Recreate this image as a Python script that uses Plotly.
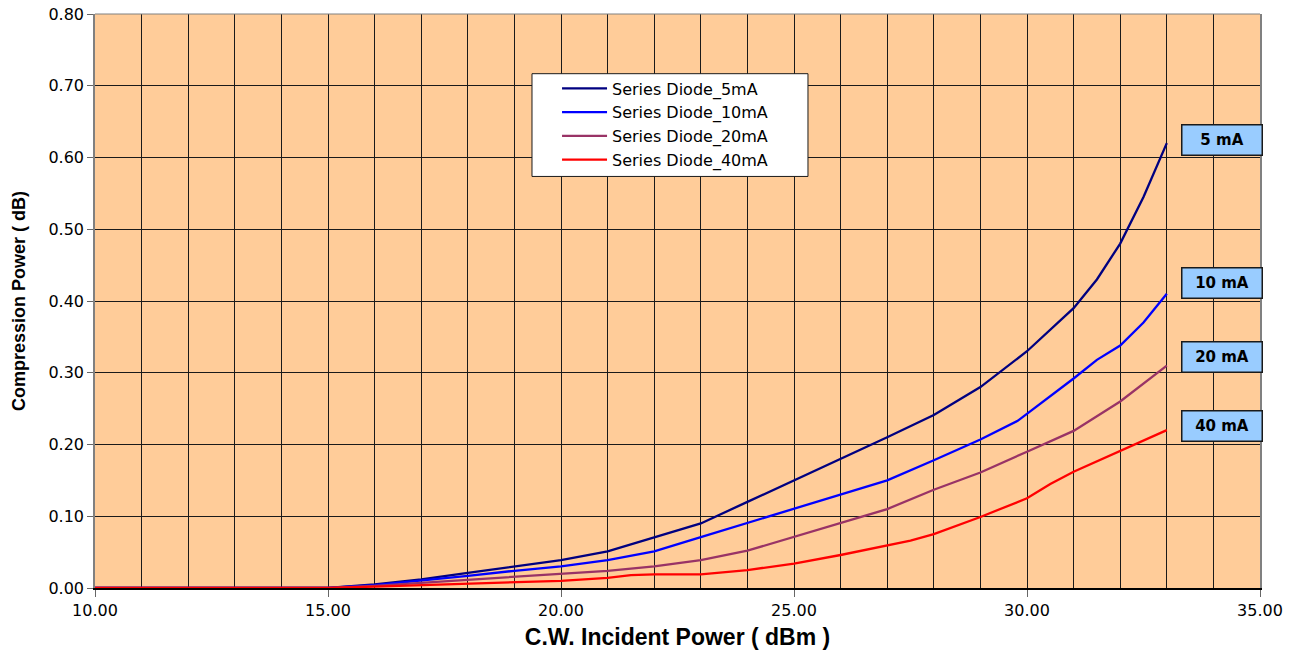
import plotly.graph_objects as go

x_5 = [10, 11, 12, 13, 14, 15, 16, 17, 18, 19, 20, 21, 22, 23, 24, 25, 26, 27, 28, 29, 30, 31, 31.5, 32, 32.5, 33]
y_5 = [0, 0, 0, 0, 0, 0, 0.005, 0.012, 0.021, 0.030, 0.039, 0.051, 0.070, 0.090, 0.120, 0.150, 0.179, 0.210, 0.241, 0.280, 0.330, 0.390, 0.430, 0.480, 0.545, 0.620]

x_10 = [10, 11, 12, 13, 14, 15, 16, 17, 18, 19, 20, 21, 22, 23, 24, 25, 26, 27, 28, 29, 29.8, 31, 31.5, 32, 32.5, 33]
y_10 = [0, 0, 0, 0, 0, 0, 0.004, 0.010, 0.017, 0.024, 0.030, 0.039, 0.051, 0.071, 0.091, 0.110, 0.130, 0.150, 0.178, 0.207, 0.233, 0.292, 0.318, 0.338, 0.370, 0.410]

x_20 = [10, 11, 12, 13, 14, 15, 16, 17, 18, 19, 20, 21, 22, 23, 24, 25, 26, 27, 28, 29, 30, 31, 32, 33]
y_20 = [0, 0, 0, 0, 0, 0, 0.003, 0.007, 0.012, 0.016, 0.020, 0.024, 0.030, 0.039, 0.052, 0.071, 0.090, 0.110, 0.137, 0.161, 0.190, 0.219, 0.260, 0.310]

x_40 = [10, 11, 12, 13, 14, 15, 16, 17, 18, 19, 20, 21, 21.5, 22, 23, 24, 25, 26, 27, 27.5, 28, 29, 30, 30.5, 31, 32, 33]
y_40 = [0, 0, 0, 0, 0, 0, 0.002, 0.004, 0.006, 0.008, 0.010, 0.014, 0.018, 0.019, 0.019, 0.025, 0.034, 0.046, 0.060, 0.066, 0.075, 0.099, 0.125, 0.145, 0.162, 0.191, 0.220]

series_names = ["Series Diode_5mA", "Series Diode_10mA", "Series Diode_20mA", "Series Diode_40mA"]
series_colors = ["#000080", "#0000FF", "#993366", "#FF0000"]
label_texts = ["5 mA", "10 mA", "20 mA", "40 mA"]
label_y = [0.781, 0.531, 0.4016, 0.282]

fig = go.Figure()
for xs, ys, name, col in zip([x_5, x_10, x_20, x_40], [y_5, y_10, y_20, y_40], series_names, series_colors):
    fig.add_trace(go.Scatter(x=xs, y=ys, mode="lines", name=name,
                             line=dict(color=col, width=2.3, shape="linear")))

annotations = []
for t, yy in zip(label_texts, label_y):
    annotations.append(dict(text="<b>" + t + "</b>", xref="paper", yref="paper",
                            x=0.932, y=yy, xanchor="left", yanchor="middle",
                            showarrow=False, bgcolor="#99CCFF", bordercolor="#1a1a1a",
                            borderwidth=1.5, borderpad=1, width=77, height=27,
                            font=dict(family="DejaVu Sans", size=15, color="#000000")))

# legend frame (white box with black border), legend entries drawn on top
legend_box = dict(type="rect", xref="paper", yref="paper",
                  x0=0.3751, x1=0.612, y0=0.717, y1=0.896, layer="above",
                  fillcolor="#FFFFFF", line=dict(color="#1a1a1a", width=1))
top_border = dict(type="line", xref="paper", yref="paper", x0=0, x1=1, y0=1, y1=1,
                  line=dict(color="#808080", width=1))

fig.update_layout(
    width=1295, height=653,
    margin=dict(l=95, r=35, t=14, b=65),
    paper_bgcolor="#FFFFFF",
    plot_bgcolor="#FFCC99",
    font=dict(family="DejaVu Sans", size=16, color="#000000"),
    showlegend=True,
    legend=dict(x=0.3966, y=0.9, xanchor="left", yanchor="top",
                bgcolor="rgba(0,0,0,0)", borderwidth=0,
                font=dict(family="DejaVu Sans", size=16), itemwidth=45, tracegroupgap=0),
    annotations=annotations,
    shapes=[top_border, legend_box],
    xaxis=dict(range=[10, 35], dtick=5, tick0=10, tickformat=".2f",
               showgrid=True, gridcolor="#1a1a1a", gridwidth=1,
               minor=dict(dtick=1, showgrid=True, gridcolor="#1a1a1a", gridwidth=1),
               ticks="outside", ticklen=7, tickcolor="#666666",
               tickfont=dict(family="DejaVu Sans", size=16),
               showline=True, linecolor="#000000", linewidth=1.5, mirror=False,
               zeroline=False, automargin=False, ticklabeloverflow="allow",
               title=dict(text="<b>C.W. Incident Power ( dBm )</b>",
                          font=dict(family="Liberation Sans, Arial", size=23), standoff=10)),
    yaxis=dict(range=[0, 0.8], dtick=0.1, tickformat=".2f",
               showgrid=True, gridcolor="#1a1a1a", gridwidth=1,
               ticks="outside", ticklen=6, tickcolor="#666666",
               tickfont=dict(family="DejaVu Sans", size=16),
               showline=True, linecolor="#808080", linewidth=1.5, mirror=True,
               zeroline=False, automargin=False, ticklabeloverflow="allow",
               title=dict(text="<b>Compression Power ( dB)</b>",
                          font=dict(family="Liberation Sans, Arial", size=18), standoff=18)),
)

fig.write_html("out.html", config={"displayModeBar": False},
               post_script="document.body.style.margin='0px';")
